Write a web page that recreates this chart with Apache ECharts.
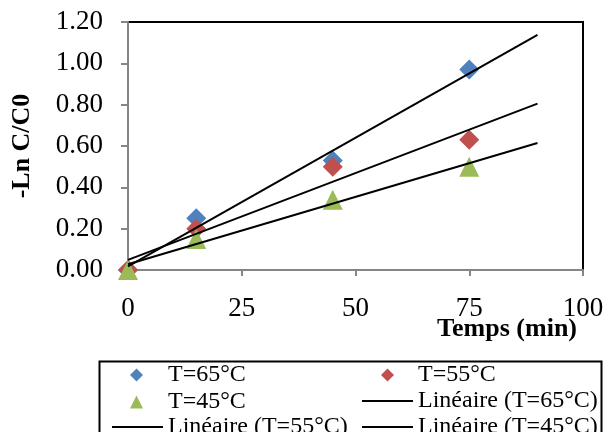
<!DOCTYPE html>
<html><head><meta charset="utf-8">
<script src="https://cdn.jsdelivr.net/npm/echarts@6/dist/echarts.min.js"></script>
<style>html,body{margin:0;padding:0;background:#fff}#c{width:604px;height:432px}</style>
</head><body><div id="c"></div>
<script>
var times = [0, 15, 45, 75];
var t65 = [0, 0.25, 0.53, 0.97];
var t55 = [0, 0.20, 0.50, 0.63];
var t45 = [0, 0.15, 0.34, 0.50];
var seriesNames = ['T=65°C', 'T=55°C', 'T=45°C'];
var trendNames = ['Linéaire (T=65°C)', 'Linéaire (T=55°C)', 'Linéaire (T=45°C)'];
var trendStart = 0, trendEnd = 90;
var xTicks = [0, 25, 50, 75, 100];
var yTicks = [0, 0.2, 0.4, 0.6, 0.8, 1.0, 1.2];
var colors = ['#4F81BD', '#C0504D', '#9BBB59'];

function fit(xs, ys) {
  var n = xs.length, mx = 0, my = 0;
  for (var i = 0; i < n; i++) { mx += xs[i]; my += ys[i]; }
  mx /= n; my /= n;
  var sxx = 0, sxy = 0;
  for (var i = 0; i < n; i++) { sxx += (xs[i]-mx)*(xs[i]-mx); sxy += (xs[i]-mx)*(ys[i]-my); }
  var m = sxy / sxx, b = my - m * mx;
  return [[trendStart, b + m*trendStart], [trendEnd, b + m*trendEnd]];
}
function pts(ys) { return times.map(function (t, i) { return [t, ys[i]]; }); }

var F = 'Liberation Serif, Times New Roman, serif';
var all = [t65, t55, t45];
var series = [];
var symbols = ['diamond', 'diamond', 'triangle'];
for (var k = 0; k < 3; k++) {
  series.push({ type: 'scatter', name: seriesNames[k], data: pts(all[k]), symbol: symbols[k], symbolSize: 20,
    itemStyle: { color: colors[k], opacity: 1 }, clip: false, z: 2 });
}
for (var k = 0; k < 3; k++) {
  series.push({ type: 'line', name: trendNames[k], data: fit(times, all[k]), symbol: 'none',
    lineStyle: { color: '#000', width: 2 }, itemStyle: { color: '#000' }, z: 3, silent: true });
}

function lg(name, left, top, icon, w, h, pad) {
  return { data: [{ name: name, icon: icon }], left: left, top: top, padding: 0, itemWidth: w, itemHeight: h,
    selectedMode: false, textStyle: { fontFamily: F, fontSize: 24, color: '#000', lineHeight: 24, padding: [0, 0, 0, pad] } };
}

var chart = echarts.init(document.getElementById('c'));
chart.setOption({
  animation: false,
  grid: { left: 128, right: 21, top: 22, bottom: 162, show: true, borderColor: '#000', borderWidth: 2,
    containLabel: false, outerBoundsMode: 'none' },
  xAxis: { type: 'value', min: xTicks[0], max: xTicks[xTicks.length-1], interval: 25,
    name: 'Temps (min)', nameLocation: 'end', nameGap: 0, nameMoveOverlap: false,
    nameTextStyle: { fontFamily: F, fontSize: 26, fontWeight: 'bold', color: '#000', align: 'right', verticalAlign: 'top', padding: [46, 6, 0, 0] },
    axisLine: { lineStyle: { color: '#868686', width: 2 } },
    axisTick: { show: true, length: 6, lineStyle: { color: '#868686', width: 2 } },
    axisLabel: { fontFamily: F, fontSize: 27, color: '#000', margin: 25 },
    splitLine: { show: false } },
  yAxis: { type: 'value', min: yTicks[0], max: yTicks[yTicks.length-1], interval: 0.2,
    name: '-Ln C/C0', nameLocation: 'middle', nameGap: 93, nameRotate: 90, nameMoveOverlap: false,
    nameTextStyle: { fontFamily: F, fontSize: 26, fontWeight: 'bold', color: '#000' },
    axisLine: { lineStyle: { color: '#868686', width: 2 } },
    axisTick: { show: true, length: 7, lineStyle: { color: '#868686', width: 2 } },
    axisLabel: { fontFamily: F, fontSize: 27, color: '#000', margin: 25, formatter: function (v) { return v.toFixed(2); } },
    splitLine: { show: false } },
  legend: [
    lg(seriesNames[0], 130, 363, 'diamond', 13, 13, 20),
    lg(seriesNames[1], 381, 363, 'diamond', 13, 13, 19),
    lg(seriesNames[2], 130, 390, 'triangle', 13, 13, 20),
    lg(trendNames[0], 362, 389, 'rect', 51, 2, 0),
    lg(trendNames[1], 112, 415, 'rect', 51, 2, 0),
    lg(trendNames[2], 362, 415, 'rect', 51, 2, 0)
  ],
  graphic: [{ type: 'rect', shape: { x: 99.5, y: 361.5, width: 502, height: 100 }, style: { fill: 'none', stroke: '#000', lineWidth: 2 }, z: -1 }],
  series: series
});
</script></body></html>
